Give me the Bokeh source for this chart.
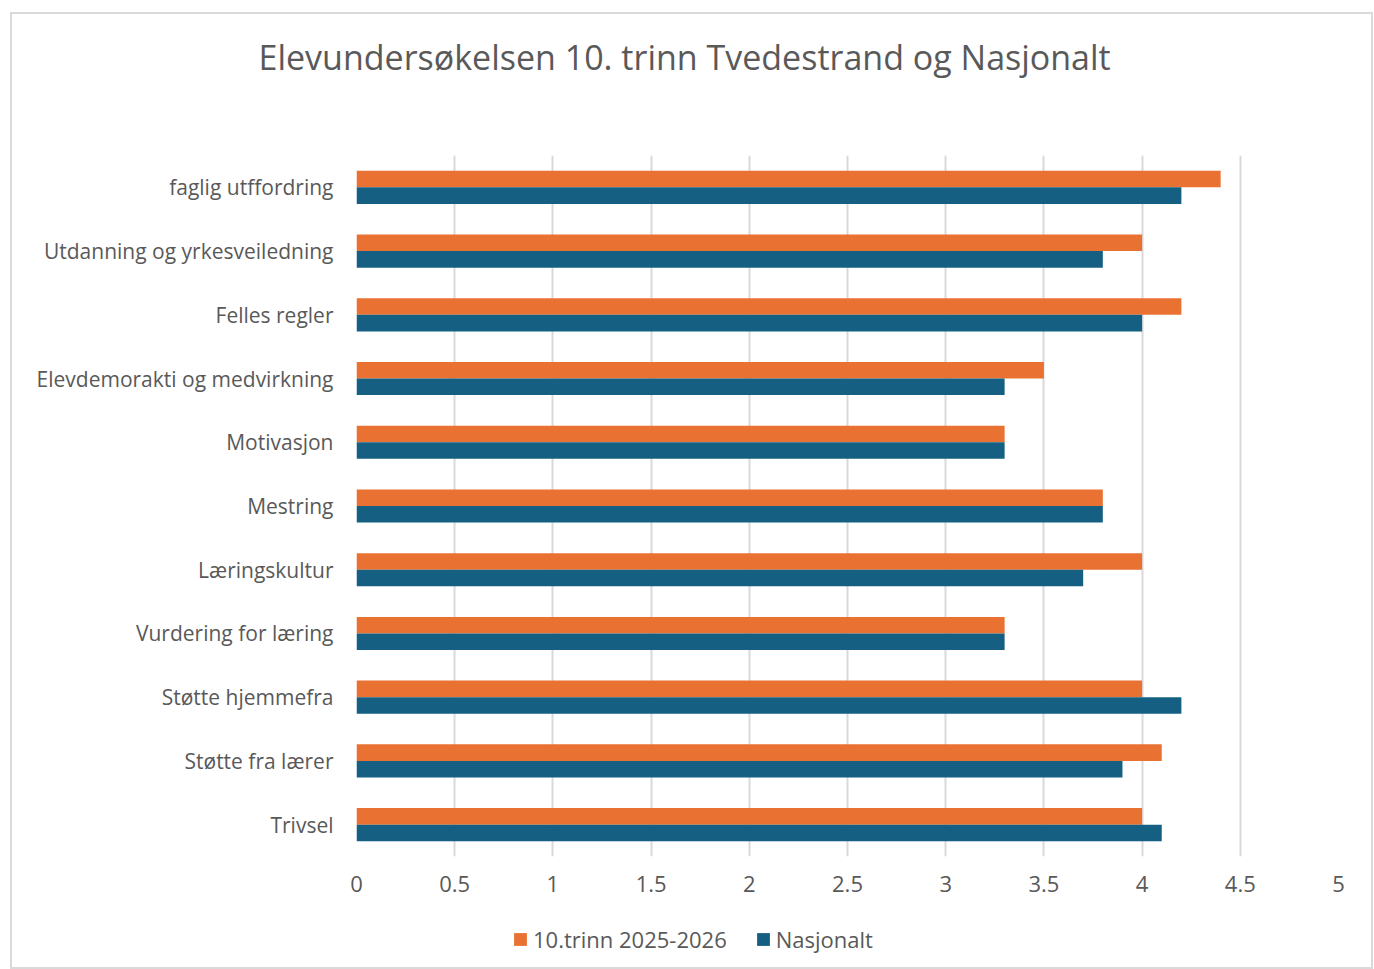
from bokeh.plotting import figure
from bokeh.models import ColumnDataSource, FactorRange, Legend, LegendItem, FixedTicker
from bokeh.layouts import column
from bokeh.transform import dodge
from bokeh.embed import file_html
from bokeh.resources import INLINE

categories = ["faglig utffordring", "Utdanning og yrkesveiledning", "Felles regler",
              "Elevdemorakti og medvirkning", "Motivasjon", "Mestring", "Læringskultur",
              "Vurdering for læring", "Støtte hjemmefra", "Støtte fra lærer", "Trivsel"]
trinn10 = [4.4, 4.0, 4.2, 3.5, 3.3, 3.8, 4.0, 3.3, 4.0, 4.1, 4.0]
nasjonalt = [4.2, 3.8, 4.0, 3.3, 3.3, 3.8, 3.7, 3.3, 4.2, 3.9, 4.1]
x_ticks = [0, 0.5, 1, 1.5, 2, 2.5, 3, 3.5, 4, 4.5, 5]
series_names = ["10.trinn 2025-2026", "Nasjonalt"]

FONT = "Open Sans"
TXT = "#595959"
ORANGE = "#E97132"
BLUE = "#156082"

src = ColumnDataSource(dict(cat=categories, a=trinn10, b=nasjonalt))

p = figure(width=1359, height=957, output_backend="svg", toolbar_location=None,
           y_range=FactorRange(factors=list(reversed(categories))),
           x_range=(0, 5),
           min_border_left=344, min_border_right=33, min_border_top=198, min_border_bottom=58)
p.margin = (-57, 0, 0, 0)
p.border_fill_color = None

r1 = p.hbar(y=dodge("cat", 0.13, range=p.y_range), right="a", left=0, height=0.26,
            source=src, color=ORANGE, line_color=None)
r2 = p.hbar(y=dodge("cat", -0.13, range=p.y_range), right="b", left=0, height=0.26,
            source=src, color=BLUE, line_color=None)

p.title.text = "Elevundersøkelsen 10. trinn Tvedestrand og Nasjonalt"
p.title.text_font = FONT
p.title.text_font_size = "34px"
p.title.text_font_style = "normal"
p.title.text_color = TXT
p.title.align = "left"
p.title.offset = -98
p.title.vertical_align = "top"
p.title.standoff = 148

p.outline_line_color = None
p.background_fill_color = "white"
p.ygrid.grid_line_color = None
p.xgrid.grid_line_color = "#d9d9d9"
p.xgrid.grid_line_width = 2
p.xaxis.ticker = FixedTicker(ticks=x_ticks)
p.xaxis.major_label_overrides = {t: (str(t) if t != int(t) else str(int(t))) for t in x_ticks}

for ax in (p.xaxis[0], p.yaxis[0]):
    ax.axis_line_color = None
    ax.major_tick_line_color = None
    ax.minor_tick_line_color = None
    ax.major_label_text_font = FONT
    ax.major_label_text_font_size = "21px"
    ax.major_label_text_color = TXT
p.xaxis.major_label_text_font_size = "22px"
p.xaxis.major_label_standoff = 13
p.yaxis.major_label_standoff = 17

# legend strip below the chart (proxy bars sit outside its visible range)
lf = figure(width=1359, height=53, output_backend="svg", toolbar_location=None,
            x_range=(0, 1), y_range=(0, 1),
            min_border_left=344, min_border_right=33, min_border_top=0, min_border_bottom=0)
lf.border_fill_color = None
lf.axis.visible = False
lf.grid.grid_line_color = None
lf.outline_line_color = None
lr1 = lf.hbar(y=[-5], left=[0], right=[1], height=1, color=ORANGE, line_color=None)
lr2 = lf.hbar(y=[-5], left=[0], right=[1], height=1, color=BLUE, line_color=None)
legend = Legend(items=[LegendItem(label=series_names[0], renderers=[lr1]),
                       LegendItem(label=series_names[1], renderers=[lr2])],
                orientation="horizontal", location=(156, 13),
                glyph_width=16, glyph_height=16, label_standoff=5, spacing=28,
                label_text_font=FONT, label_text_font_size="22px", label_text_color=TXT,
                border_line_color=None, background_fill_alpha=0, padding=0, margin=0)
lf.add_layout(legend, "center")

layout = column(p, lf, spacing=0)
layout.margin = (12, 0, 0, 10)
layout.styles = {"border": "2px solid #d9d9d9"}

open("out.html", "w").write(file_html(layout, INLINE))
